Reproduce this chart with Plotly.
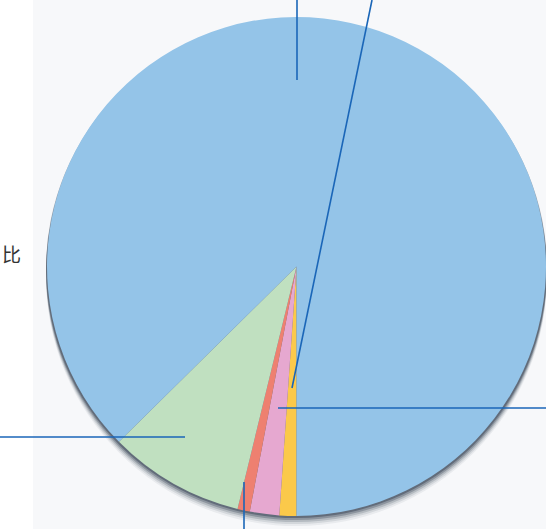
import plotly.graph_objects as go

# Data (shares, clockwise from 6 o'clock)
categories = ["黄", "粉", "红", "绿", "蓝"]
values = [1.1, 1.9, 0.8, 8.8, 87.4]
colors = ["#fbc94a", "#e6a8d0", "#ee8070", "#c0e0c0", "#94c4e8"]

W, H = 546, 529
fig = go.Figure()

fig.add_trace(go.Pie(
    labels=categories, values=values, sort=False,
    direction="clockwise", rotation=180,
    marker=dict(colors=colors, line=dict(width=0)),
    textinfo="none", hoverinfo="label+percent", showlegend=False,
    domain=dict(x=[47 / W, 1.0], y=[12 / H, 513 / H]),
))

# invisible pixel axes for overlays
fig.add_trace(go.Scatter(x=[0, W], y=[0, H], mode="markers",
                         marker=dict(opacity=0), hoverinfo="skip", showlegend=False))

shapes = []
# light panel background
shapes.append(dict(type="rect", xref="x", yref="y", x0=33, x1=W, y0=0, y1=H,
                   fillcolor="#f7f8fa", line=dict(width=0), layer="below"))
# soft shadow under the pie
cx, cy, r = 296.5, 266.5, 249.5
for dy, op in [(10, 0.06), (8, 0.1), (6, 0.16), (4, 0.25), (2, 0.35)]:
    shapes.append(dict(type="circle", xref="x", yref="y",
                       x0=cx - r - 1, x1=cx + r + 1, y0=cy - r + dy, y1=cy + r + dy,
                       fillcolor=f"rgba(20,35,55,{op})", line=dict(width=0), layer="below"))

lc = "#1a66b8"
leaders = [
    (297, 0, 297, 80),
    (372, 0, 292, 388),
    (278, 408, 546, 408),
    (0, 437, 185, 437),
    (244, 482, 244, 529),
]
for x0, y0, x1, y1 in leaders:
    shapes.append(dict(type="line", xref="x", yref="y", x0=x0, y0=y0, x1=x1, y1=y1,
                       line=dict(color=lc, width=1.6), layer="above"))

fig.update_layout(
    width=W, height=H, margin=dict(l=0, r=0, t=0, b=0),
    paper_bgcolor="white", plot_bgcolor="rgba(0,0,0,0)",
    xaxis=dict(range=[0, W], visible=False, fixedrange=True),
    yaxis=dict(range=[H, 0], visible=False, fixedrange=True),
    shapes=shapes,
    annotations=[dict(x=0, y=253, xref="x", yref="y", text="比", showarrow=False,
                      xanchor="left", yanchor="middle",
                      font=dict(family="Noto Sans CJK SC", size=19, color="#333333"))],
)

fig.write_html("out.html")
